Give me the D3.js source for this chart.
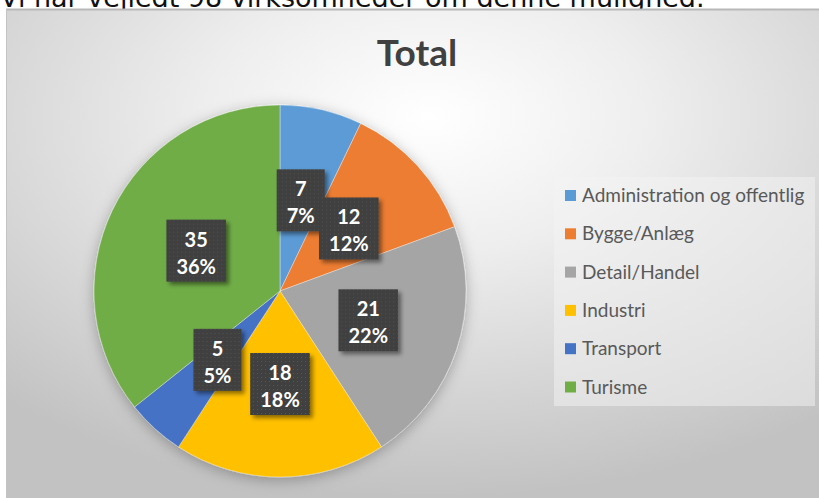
<!DOCTYPE html>
<html>
<head>
<meta charset="utf-8">
<script src="https://cdn.jsdelivr.net/npm/d3@7"></script>
<style>
  html, body { margin: 0; padding: 0; background: #ffffff; }
  svg { display: block; }
</style>
</head>
<body>
<svg id="chart" width="819" height="498"></svg>
<script>
const headline = "Vi har vejledt 98 virksomheder om denne mulighed.";
const chartTitle = "Total";
const categories = ["Administration og offentlig", "Bygge/Anlæg", "Detail/Handel", "Industri", "Transport", "Turisme"];
const values = [7, 12, 21, 18, 5, 35];
const percentLabels = ["7%", "12%", "22%", "18%", "5%", "36%"];
const colors = ["#5B9BD5", "#ED7D31", "#A5A5A5", "#FFC000", "#4472C4", "#70AD47"];

const svg = d3.select("#chart");
const W = 819, H = 498;
const defs = svg.append("defs");

// background gradient
const bg = defs.append("radialGradient").attr("id", "bgGrad")
  .attr("cx", "52%").attr("cy", "22%").attr("r", "78%");
bg.append("stop").attr("offset", "0%").attr("stop-color", "#ffffff");
bg.append("stop").attr("offset", "35%").attr("stop-color", "#eeeeee");
bg.append("stop").attr("offset", "100%").attr("stop-color", "#c2c2c2");

const pieShadow = defs.append("filter").attr("id", "pieShadow")
  .attr("x", "-20%").attr("y", "-20%").attr("width", "140%").attr("height", "140%");
pieShadow.append("feDropShadow").attr("dx", 0).attr("dy", 3).attr("stdDeviation", 7)
  .attr("flood-color", "#000").attr("flood-opacity", 0.28);

const boxShadow = defs.append("filter").attr("id", "boxShadow")
  .attr("x", "-30%").attr("y", "-30%").attr("width", "160%").attr("height", "160%");
boxShadow.append("feDropShadow").attr("dx", 3).attr("dy", 3).attr("stdDeviation", 2)
  .attr("flood-color", "#000").attr("flood-opacity", 0.45);

const pat = defs.append("pattern").attr("id", "dots").attr("patternUnits", "userSpaceOnUse")
  .attr("width", 4).attr("height", 4);
pat.append("rect").attr("width", 4).attr("height", 4).attr("fill", "#3f3f3f");
pat.append("rect").attr("x", 1).attr("y", 1).attr("width", 1).attr("height", 1).attr("fill", "#555555");

// headline text (cut at top, as in the reference)
svg.append("text").attr("x", 0).attr("y", 7)
  .attr("font-family", "DejaVu Sans").attr("font-size", 27).attr("fill", "#111")
  .text(headline);

// chart area
svg.append("rect").attr("x", 6).attr("y", 10).attr("width", W - 6).attr("height", H - 10)
  .attr("fill", "url(#bgGrad)");
svg.append("line").attr("x1", 6).attr("x2", W).attr("y1", 9.5).attr("y2", 9.5)
  .attr("stroke", "#b8b8b8").attr("stroke-width", 2);
svg.append("line").attr("x1", 6.5).attr("x2", 6.5).attr("y1", 9).attr("y2", H)
  .attr("stroke", "#c4c4c4").attr("stroke-width", 1);

// title
svg.append("text").attr("x", 417).attr("y", 66).attr("text-anchor", "middle")
  .attr("font-family", "Lato").attr("font-weight", "bold").attr("font-size", 37)
  .attr("fill", "#404040").text(chartTitle);

// pie
const cx = 280, cy = 291, R = 186;
const pie = d3.pie().sort(null).value(d => d)(values);
const arc = d3.arc().innerRadius(0).outerRadius(R);
const g = svg.append("g").attr("transform", `translate(${cx},${cy})`);
const slices = g.append("g").attr("filter", "url(#pieShadow)");
slices.selectAll("path").data(pie).join("path")
  .attr("d", arc)
  .attr("fill", (d, i) => colors[i])
  .attr("stroke", "#ffffff").attr("stroke-width", 0.6).attr("stroke-opacity", 0.6);

// data labels
const labels = g.append("g");
pie.forEach((d, i) => {
  const [x, y] = arc.centroid(d);
  const lg = labels.append("g").attr("transform", `translate(${x},${y})`);
  const rect = lg.append("rect").attr("fill", "url(#dots)").attr("filter", "url(#boxShadow)");
  const t1 = lg.append("text").attr("x", 0).attr("y", -4).attr("text-anchor", "middle")
    .attr("font-family", "Lato").attr("font-weight", "bold").attr("font-size", 20)
    .attr("fill", "#ffffff").text(values[i]);
  const t2 = lg.append("text").attr("x", 0).attr("y", 23).attr("text-anchor", "middle")
    .attr("font-family", "Lato").attr("font-weight", "bold").attr("font-size", 20)
    .attr("fill", "#ffffff").text(percentLabels[i]);
  const w = Math.max(t1.node().getComputedTextLength(), t2.node().getComputedTextLength()) + 20;
  rect.attr("x", -w / 2).attr("y", -31).attr("width", w).attr("height", 62);
});

// legend
const lgX = 554, lgY = 177, lgW = 261, lgH = 229;
svg.append("rect").attr("x", lgX).attr("y", lgY).attr("width", lgW).attr("height", lgH)
  .attr("fill", "#f4f4f4").attr("fill-opacity", 0.5);
const rowY = d3.scalePoint().domain(categories).range([195.5, 387]);
const leg = svg.append("g");
categories.forEach((c, i) => {
  const y = rowY(c);
  leg.append("rect").attr("x", 565).attr("y", y - 5.5).attr("width", 11).attr("height", 11)
    .attr("fill", colors[i]);
  leg.append("text").attr("x", 582).attr("y", y + 6.5)
    .attr("font-family", "Lato").attr("font-size", 19).attr("fill", "#595959")
    .text(c);
});
</script>
</body>
</html>
